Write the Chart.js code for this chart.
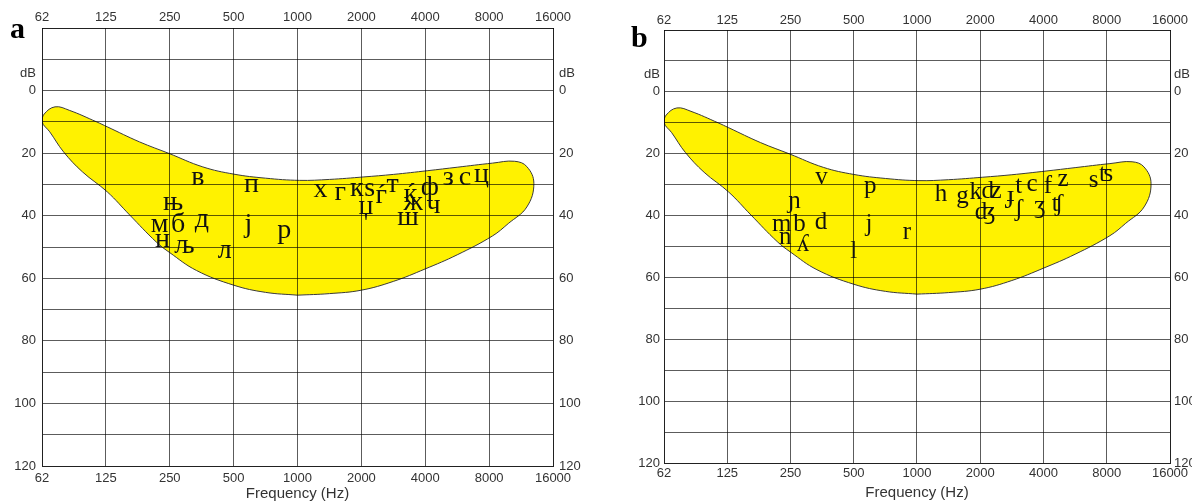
<!DOCTYPE html>
<html>
<head>
<meta charset="utf-8">
<script src="https://cdn.jsdelivr.net/npm/chart.js@4.4.1/dist/chart.umd.min.js"></script>
<style>
  html, body { margin: 0; padding: 0; background: #fff; width: 1192px; height: 502px; overflow: hidden; }
  canvas { position: absolute; top: 0; }
  #chartA { left: 0; }
  #chartB { left: 600px; }
</style>
</head>
<body>
<canvas id="chartA" width="600" height="502"></canvas>
<canvas id="chartB" width="592" height="502"></canvas>
<script>
// octave grid and its labels
const freqTicks = [62.5, 125, 250, 500, 1000, 2000, 4000, 8000, 16000];
const freqLabels = ['62', '125', '250', '500', '1000', '2000', '4000', '8000', '16000'];
const dbGrid = [-20, -10, 0, 10, 20, 30, 40, 50, 60, 70, 80, 90, 100, 110, 120];
const dbLabelled = [0, 20, 40, 60, 80, 100, 120];
const unitDb = -5.5;

// speech banana outline (Hz, dB HL)
const bananaHz = [1000, 707, 500, 334, 250, 216, 162, 127, 97, 79, 68, 62.5, 64, 72, 84, 113, 127, 180, 248, 358,
  500, 707, 1021, 1414, 2056, 2828, 4113, 5657, 8282, 10556, 12046, 13000, 12046, 9849, 8282, 5657, 4000, 2828, 2000, 1414, 1000];
const bananaDb = [65.4, 64.5, 62.2, 57.5, 51.8, 48.4, 39.8, 32.4, 26, 19.6, 13.2, 10, 7.5, 5.2, 6.3, 10, 11.6, 16.4, 20.1, 24.4,
  26.7, 28.0, 28.7, 28.4, 27.6, 26.8, 25.6, 24.5, 23.2, 22.6, 24.3, 29.7, 37.2, 42.5, 46.5, 52.5, 57, 61, 63.8, 64.9, 65.4];

// panel a: Cyrillic letters
const cyrLetters = ['в', 'п', 'њ', 'м', 'б', 'д', 'н', 'љ', 'л', 'ј', 'р', 'х', 'г', 'к', 'ѕ', 'џ', 'ѓ', 'т', 'ќ', 'ф', 'з', 'с', 'ц', 'ж', 'ч', 'ш'];
const cyrHz = [339, 607, 259, 224, 274, 354, 231, 293, 454, 587, 865, 1284, 1591, 1905, 2188, 2100, 2480, 2810, 3410, 4200, 5135, 6150, 7360, 3508, 4378, 3317];
const cyrDb = [27.6, 29.7, 35.4, 42.5, 42.5, 40.9, 47.3, 49.4, 51, 42.5, 44.6, 31.2, 32.3, 30.9, 30.9, 36.9, 33.4, 29.9, 32.9, 30.8, 27.6, 27.6, 26.5, 35.6, 36.6, 40.4];

// panel b: IPA symbols
const ipaLetters = ['v', 'p', 'ɲ', 'm', 'b', 'd', 'n', 'ʎ', 'l', 'j', 'r', 'h', 'g', 'k', 'ʣ', 'ɟ', 't', 'c', 'f', 'z', 's', 'ʦ', 'ʤ', 'ʃ', 'ʒ', 'ʧ'];
const ipaHz = [351, 599, 261, 227, 276, 349, 236, 287, 500, 591, 895, 1302, 1647, 1905, 2266, 2790, 3053, 3531, 4200, 4960, 6918, 7950, 2115, 3053, 3838, 4660];
const ipaDb = [27.4, 30.1, 35.2, 42.5, 42.5, 42, 46.8, 49, 51.2, 42.5, 45.2, 32.9, 33.4, 32.3, 31.8, 33.4, 30.2, 29.6, 30.2, 28.1, 28.4, 26.4, 38.8, 37.7, 36.6, 36.1];

const GRID = 'rgba(0,0,0,0.64)';
const TXT = '#333';
const SANS = '"Liberation Sans", Arial, sans-serif';

function makePanel(id, p) {
  const ctx = document.getElementById(id).getContext('2d');

  const overlay = {
    id: 'overlay',
    afterDraw(chart) {
      const c = chart.ctx, a = chart.chartArea, x = chart.scales.x, y = chart.scales.y;
      c.save();
      c.fillStyle = '#111';
      c.textAlign = 'center';
      c.textBaseline = 'middle';
      c.font = p.letterSize + 'px "Liberation Serif", "DejaVu Serif", serif';
      p.letters.forEach((t, i) => {
        c.fillText(t, x.getPixelForValue(p.hz[i]), y.getPixelForValue(p.db[i]) + 1);
      });
      c.fillStyle = TXT;
      c.font = '13px ' + SANS;
      const uy = y.getPixelForValue(unitDb);
      c.textAlign = 'right';
      c.fillText('dB', a.left - p.padL, uy);
      c.textAlign = 'left';
      c.fillText('dB', a.right + p.padR, uy);
      c.fillStyle = '#000';
      c.font = 'bold 30px "Liberation Serif", serif';
      c.textBaseline = 'alphabetic';
      c.fillText(p.tag, p.tagX, p.tagY);
      c.restore();
    }
  };

  const xAxis = (pos, pad, size) => ({
    type: 'logarithmic',
    position: pos,
    min: 62.5,
    max: 16000,
    bounds: 'data',
    afterBuildTicks: s => { s.ticks = freqTicks.map(v => ({ value: v })); },
    afterFit: s => { s.height = size; },
    grid: { display: pos === 'bottom', color: GRID, lineWidth: 1, drawTicks: false, z: 1 },
    border: { color: GRID, z: 1 },
    ticks: {
      autoSkip: false, maxRotation: 0, padding: pad, color: TXT,
      font: { family: SANS, size: 13 },
      callback: (v, i) => freqLabels[i]
    },
    title: {
      display: pos === 'bottom', text: 'Frequency (Hz)', color: TXT,
      font: { family: SANS, size: 15 }, padding: { top: 0, bottom: p.titleB }
    }
  });

  const yAxis = (pos, pad, size) => ({
    type: 'linear',
    position: pos,
    reverse: true,
    min: -20,
    max: 120,
    afterBuildTicks: s => { s.ticks = dbGrid.map(v => ({ value: v })); },
    afterFit: s => { s.width = size; },
    grid: { display: pos === 'left', color: GRID, lineWidth: 1, drawTicks: false, z: 1 },
    border: { color: GRID, z: 1 },
    ticks: {
      autoSkip: false, padding: pad, color: TXT,
      font: { family: SANS, size: 13 },
      callback: v => dbLabelled.includes(v) ? String(v) : ''
    }
  });

  return new Chart(ctx, {
    type: 'line',
    data: {
      datasets: [{
        data: bananaHz.map((f, i) => ({ x: f, y: bananaDb[i] })),
        xAxisID: 'x',
        yAxisID: 'y',
        backgroundColor: '#fff200',
        borderColor: '#3a3a3a',
        borderWidth: 1,
        pointRadius: 0,
        tension: 0.4,
        fill: 'shape'
      }]
    },
    options: {
      responsive: false,
      animation: false,
      events: [],
      layout: { padding: 0 },
      plugins: { legend: { display: false }, tooltip: { enabled: false } },
      scales: {
        x: xAxis('bottom', p.padB, p.bottom),
        x2: xAxis('top', p.padT, p.top),
        y: yAxis('left', p.padL, p.left),
        y2: yAxis('right', p.padR, p.right)
      }
    },
    plugins: [overlay]
  });
}

makePanel('chartA', {
  left: 42, right: 47, top: 28, bottom: 36,
  padL: 6, padR: 6, padT: 3, padB: 5, titleB: -1,
  letters: cyrLetters, hz: cyrHz, db: cyrDb, letterSize: 28,
  tag: 'a', tagX: 10, tagY: 38
});

makePanel('chartB', {
  left: 64, right: 22, top: 30, bottom: 39,
  padL: 4, padR: 4, padT: 2, padB: 3, titleB: 0,
  letters: ipaLetters, hz: ipaHz, db: ipaDb, letterSize: 25,
  tag: 'b', tagX: 31, tagY: 47
});
</script>
</body>
</html>
